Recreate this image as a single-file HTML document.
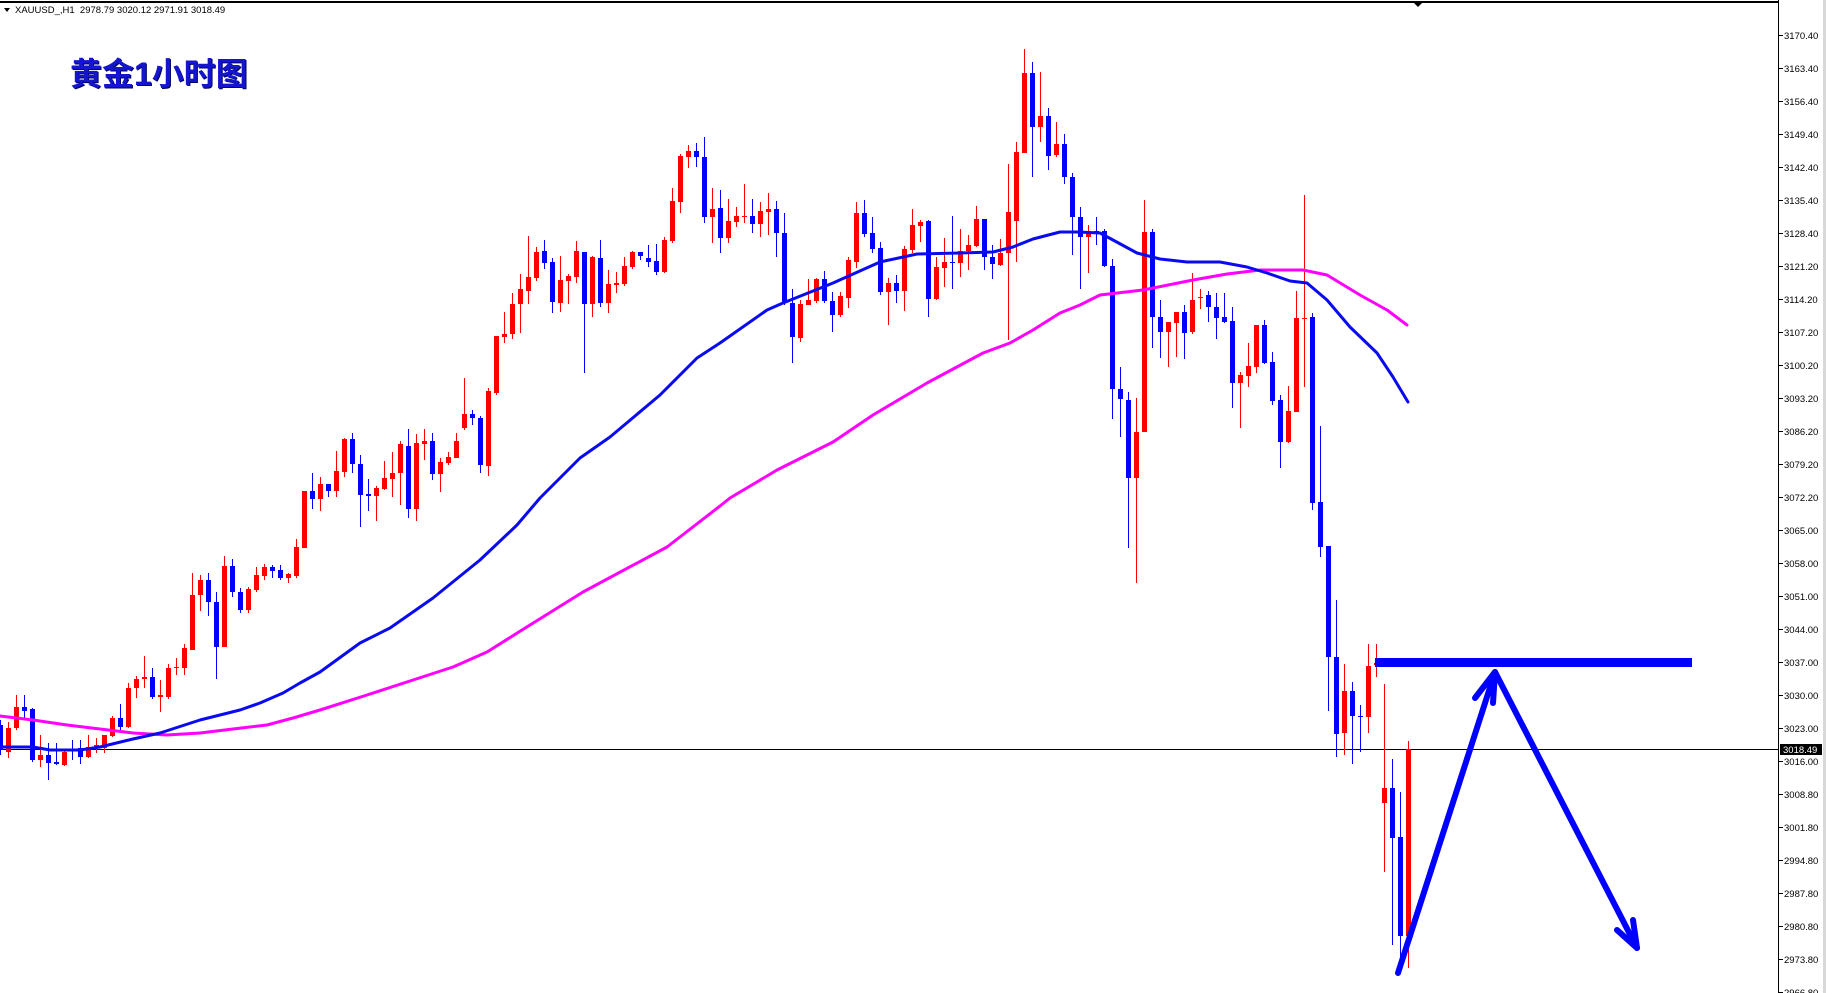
<!DOCTYPE html>
<html><head><meta charset="utf-8"><style>
html,body{margin:0;padding:0;background:#fff;}
svg{display:block;}
</style></head><body>
<svg width="1826" height="993" viewBox="0 0 1826 993" xmlns="http://www.w3.org/2000/svg">
<rect x="0" y="0" width="1826" height="993" fill="#fff"/>
<rect x="1823" y="0" width="3" height="993" fill="#d8d8d8"/>
<!-- top border -->
<rect x="0" y="1" width="1779" height="2" fill="#000"/>
<polygon points="1414,3 1422,3 1418,7" fill="#000"/>
<!-- header -->
<polygon points="4,8 10,8 7,12" fill="#000"/>
<text x="15" y="13" font-family="'Liberation Sans',sans-serif" font-size="9.5" fill="#000" xml:space="preserve">XAUUSD_,H1  2978.79 3020.12 2971.91 3018.49</text>
<!-- title -->
<text x="71" y="86" font-family="'Liberation Sans','Noto Sans CJK SC',sans-serif" font-size="32" font-weight="bold" fill="#000060">黄金1小时图</text>
<text x="70" y="85" font-family="'Liberation Sans','Noto Sans CJK SC',sans-serif" font-size="32" font-weight="bold" fill="#1515d0">黄金1小时图</text>

<!-- price line -->
<rect x="0" y="749" width="1778" height="1" fill="#000"/>

<!-- candles -->
<g shape-rendering="crispEdges">
<path fill="#ff0000" d="M6 728h5v24h-5zM8 722h1v36h-1zM14 707h5v21h-5zM16 695h1v35h-1zM38 755h5v5h-5zM40 735h1v32h-1zM62 752h5v13h-5zM64 750h1v16h-1zM86 747h5v10h-5zM88 735h1v23h-1zM94 745h5v3h-5zM96 738h1v15h-1zM102 735h5v13h-5zM104 735h1v18h-1zM110 718h5v18h-5zM112 716h1v21h-1zM126 688h5v39h-5zM128 683h1v45h-1zM134 679h5v9h-5zM136 676h1v22h-1zM142 677h5v2h-5zM144 656h1v32h-1zM158 695h5v2h-5zM160 680h1v32h-1zM166 668h5v29h-5zM168 664h1v35h-1zM174 667h5v1h-5zM176 658h1v17h-1zM182 648h5v20h-5zM184 644h1v31h-1zM190 595h5v55h-5zM192 573h1v77h-1zM198 580h5v15h-5zM200 575h1v36h-1zM222 566h5v81h-5zM224 556h1v91h-1zM246 589h5v21h-5zM248 587h1v26h-1zM254 575h5v15h-5zM256 567h1v25h-1zM262 567h5v9h-5zM264 564h1v16h-1zM286 574h5v4h-5zM288 573h1v10h-1zM294 547h5v29h-5zM296 539h1v39h-1zM302 491h5v57h-5zM304 491h1v57h-1zM318 484h5v15h-5zM320 477h1v34h-1zM334 471h5v20h-5zM336 451h1v46h-1zM342 439h5v33h-5zM344 438h1v39h-1zM374 488h5v8h-5zM376 486h1v35h-1zM382 478h5v11h-5zM384 461h1v29h-1zM390 473h5v6h-5zM392 452h1v45h-1zM398 444h5v29h-5zM400 441h1v64h-1zM414 443h5v66h-5zM416 434h1v87h-1zM422 441h5v3h-5zM424 429h1v31h-1zM438 462h5v12h-5zM440 458h1v34h-1zM446 457h5v6h-5zM448 452h1v13h-1zM454 441h5v17h-5zM456 433h1v25h-1zM462 414h5v14h-5zM464 378h1v52h-1zM486 391h5v75h-5zM488 388h1v88h-1zM494 336h5v57h-5zM496 336h1v59h-1zM502 334h5v3h-5zM504 312h1v31h-1zM510 304h5v30h-5zM512 293h1v46h-1zM518 289h5v15h-5zM520 274h1v59h-1zM526 277h5v14h-5zM528 236h1v68h-1zM534 252h5v26h-5zM536 247h1v34h-1zM558 280h5v23h-5zM560 256h1v56h-1zM566 276h5v5h-5zM568 274h1v30h-1zM574 251h5v26h-5zM576 241h1v42h-1zM590 257h5v47h-5zM592 256h1v61h-1zM606 284h5v19h-5zM608 270h1v43h-1zM614 283h5v2h-5zM616 272h1v21h-1zM622 266h5v18h-5zM624 257h1v29h-1zM630 252h5v15h-5zM632 251h1v18h-1zM662 240h5v32h-5zM664 237h1v36h-1zM670 201h5v40h-5zM672 188h1v55h-1zM678 156h5v46h-5zM680 154h1v59h-1zM686 151h5v6h-5zM688 145h1v23h-1zM710 209h5v8h-5zM712 188h1v55h-1zM726 221h5v17h-5zM728 199h1v44h-1zM734 216h5v6h-5zM736 207h1v20h-1zM742 216h5v1h-5zM744 184h1v39h-1zM758 211h5v13h-5zM760 202h1v35h-1zM766 209h5v3h-5zM768 193h1v42h-1zM798 304h5v34h-5zM800 300h1v42h-1zM806 300h5v5h-5zM808 279h1v26h-1zM814 279h5v22h-5zM816 278h1v25h-1zM838 296h5v19h-5zM840 292h1v25h-1zM846 260h5v38h-5zM848 257h1v51h-1zM854 213h5v49h-5zM856 202h1v66h-1zM886 283h5v9h-5zM888 278h1v47h-1zM902 249h5v42h-5zM904 246h1v65h-1zM910 225h5v25h-5zM912 209h1v44h-1zM918 222h5v4h-5zM920 220h1v22h-1zM934 267h5v32h-5zM936 257h1v43h-1zM942 262h5v6h-5zM944 238h1v49h-1zM958 251h5v12h-5zM960 229h1v48h-1zM966 245h5v6h-5zM968 235h1v35h-1zM974 219h5v27h-5zM976 206h1v41h-1zM998 253h5v12h-5zM1000 239h1v27h-1zM1006 212h5v41h-5zM1008 164h1v176h-1zM1014 152h5v69h-5zM1016 142h1v120h-1zM1022 73h5v80h-5zM1024 49h1v104h-1zM1038 116h5v11h-5zM1040 72h1v70h-1zM1054 144h5v11h-5zM1056 122h1v35h-1zM1086 231h5v6h-5zM1088 225h1v48h-1zM1134 432h5v46h-5zM1136 398h1v185h-1zM1142 232h5v200h-5zM1144 200h1v232h-1zM1166 322h5v10h-5zM1168 322h1v45h-1zM1174 312h5v11h-5zM1176 312h1v45h-1zM1190 300h5v32h-5zM1192 273h1v61h-1zM1198 297h5v1h-5zM1200 289h1v20h-1zM1238 375h5v8h-5zM1240 372h1v56h-1zM1246 366h5v10h-5zM1248 343h1v44h-1zM1254 325h5v42h-5zM1256 325h1v48h-1zM1286 411h5v31h-5zM1288 386h1v57h-1zM1294 318h5v94h-5zM1296 291h1v121h-1zM1302 318h5v1h-5zM1304 195h1v192h-1zM1342 691h5v42h-5zM1344 664h1v91h-1zM1366 666h5v51h-5zM1368 644h1v89h-1zM1374 663h5v2h-5zM1376 644h1v33h-1zM1382 788h5v15h-5zM1384 684h1v188h-1zM1406 749h5v187h-5zM1408 741h1v227h-1z"/>
<path fill="#0000ff" d="M-2 725h5v25h-5zM0 720h1v35h-1zM22 707h5v4h-5zM24 695h1v25h-1zM30 709h5v51h-5zM32 708h1v54h-1zM46 755h5v8h-5zM48 743h1v37h-1zM54 762h5v2h-5zM56 743h1v22h-1zM70 749h5v2h-5zM72 740h1v20h-1zM78 748h5v9h-5zM80 740h1v24h-1zM118 718h5v9h-5zM120 704h1v26h-1zM150 677h5v20h-5zM152 668h1v31h-1zM206 580h5v22h-5zM208 573h1v43h-1zM214 602h5v45h-5zM216 592h1v87h-1zM230 566h5v26h-5zM232 559h1v38h-1zM238 592h5v18h-5zM240 588h1v25h-1zM270 567h5v4h-5zM272 565h1v13h-1zM278 570h5v8h-5zM280 565h1v15h-1zM310 491h5v8h-5zM312 473h1v36h-1zM326 484h5v7h-5zM328 484h1v13h-1zM350 439h5v25h-5zM352 433h1v40h-1zM358 464h5v31h-5zM360 455h1v72h-1zM366 494h5v2h-5zM368 479h1v32h-1zM406 446h5v63h-5zM408 429h1v89h-1zM430 441h5v33h-5zM432 433h1v47h-1zM470 414h5v4h-5zM472 410h1v15h-1zM478 418h5v47h-5zM480 416h1v57h-1zM542 251h5v12h-5zM544 240h1v29h-1zM550 262h5v40h-5zM552 258h1v55h-1zM582 252h5v52h-5zM584 252h1v121h-1zM598 258h5v45h-5zM600 240h1v67h-1zM638 252h5v4h-5zM640 252h1v8h-1zM646 258h5v4h-5zM648 245h1v22h-1zM654 261h5v11h-5zM656 244h1v31h-1zM694 151h5v6h-5zM696 143h1v24h-1zM702 157h5v60h-5zM704 137h1v86h-1zM718 208h5v30h-5zM720 190h1v63h-1zM750 216h5v8h-5zM752 199h1v34h-1zM774 209h5v24h-5zM776 201h1v56h-1zM782 233h5v70h-5zM784 213h1v92h-1zM790 303h5v34h-5zM792 289h1v74h-1zM822 279h5v22h-5zM824 271h1v32h-1zM830 301h5v14h-5zM832 292h1v40h-1zM862 213h5v21h-5zM864 200h1v37h-1zM870 233h5v16h-5zM872 217h1v36h-1zM878 248h5v44h-5zM880 242h1v53h-1zM894 283h5v8h-5zM896 275h1v28h-1zM926 221h5v78h-5zM928 220h1v97h-1zM950 262h5v1h-5zM952 216h1v73h-1zM982 219h5v38h-5zM984 219h1v51h-1zM990 257h5v7h-5zM992 245h1v34h-1zM1030 73h5v54h-5zM1032 62h1v115h-1zM1046 116h5v40h-5zM1048 108h1v62h-1zM1062 144h5v33h-5zM1064 134h1v50h-1zM1070 177h5v40h-5zM1072 173h1v82h-1zM1078 217h5v20h-5zM1080 207h1v82h-1zM1094 231h5v1h-5zM1096 217h1v28h-1zM1102 231h5v35h-5zM1104 229h1v38h-1zM1110 266h5v123h-5zM1112 259h1v160h-1zM1118 389h5v10h-5zM1120 367h1v70h-1zM1126 400h5v78h-5zM1128 392h1v156h-1zM1150 232h5v85h-5zM1152 229h1v119h-1zM1158 317h5v15h-5zM1160 300h1v58h-1zM1182 312h5v21h-5zM1184 305h1v54h-1zM1206 295h5v12h-5zM1208 291h1v31h-1zM1214 307h5v11h-5zM1216 293h1v46h-1zM1222 317h5v5h-5zM1224 293h1v30h-1zM1230 321h5v62h-5zM1232 307h1v101h-1zM1262 325h5v38h-5zM1264 320h1v44h-1zM1270 362h5v39h-5zM1272 352h1v53h-1zM1278 400h5v42h-5zM1280 395h1v73h-1zM1310 317h5v186h-5zM1312 313h1v197h-1zM1318 502h5v45h-5zM1320 426h1v131h-1zM1326 546h5v111h-5zM1328 546h1v165h-1zM1334 657h5v77h-5zM1336 600h1v157h-1zM1350 691h5v25h-5zM1352 682h1v82h-1zM1358 716h5v1h-5zM1360 705h1v47h-1zM1390 788h5v50h-5zM1392 759h1v186h-1zM1398 837h5v99h-5zM1400 792h1v175h-1z"/>
</g>

<!-- moving averages -->
<polyline fill="none" stroke="#ff00ff" stroke-width="3" stroke-linejoin="round" stroke-linecap="round" points="0,716 33,720 67,725 100,729 133,733 167,735 200,733 233,729 267,725 293,718 320,710 367,695 453,667 487,652 530,625 583,592 667,547 720,506 730,498 777,470 833,442 873,415 927,383 983,353 1010,343 1033,330 1060,313 1080,305 1100,295 1143,290 1193,280 1227,274 1260,270 1303,270 1327,275 1360,295 1387,310 1407,325"/>
<polyline fill="none" stroke="#0a0af0" stroke-width="3" stroke-linejoin="round" stroke-linecap="round" points="0,747 33,747 50,750 80,750 100,747 133,739 160,733 200,720 240,710 260,703 283,693 300,683 320,672 360,643 390,628 433,598 480,560 517,525 540,498 580,458 610,437 660,395 697,358 720,343 767,310 783,303 833,283 880,262 917,254 960,253 993,252 1013,247 1033,239 1060,232 1077,232 1100,233 1113,240 1137,253 1160,259 1187,262 1220,262 1247,267 1267,273 1290,281 1307,283 1327,300 1350,327 1377,353 1393,377 1408,402"/>

<!-- drawings -->
<rect x="1375" y="658" width="317" height="9" fill="#0000ff"/>
<g fill="none" stroke="#0000ff" stroke-width="6" stroke-linecap="round" stroke-linejoin="round">
<polyline points="1398,973 1495,672 1637,948"/>
<polyline points="1475,698 1495,672 1493,703"/>
<polyline points="1617,930 1637,948 1633,920"/>
</g>

<!-- right axis -->
<rect x="1778" y="0" width="1" height="993" fill="#000"/>
<g fill="#000" shape-rendering="crispEdges">
<rect x="1779" y="35" width="4" height="1"/><rect x="1779" y="68" width="4" height="1"/><rect x="1779" y="101" width="4" height="1"/><rect x="1779" y="134" width="4" height="1"/><rect x="1779" y="167" width="4" height="1"/><rect x="1779" y="200" width="4" height="1"/><rect x="1779" y="233" width="4" height="1"/><rect x="1779" y="266" width="4" height="1"/><rect x="1779" y="299" width="4" height="1"/><rect x="1779" y="332" width="4" height="1"/><rect x="1779" y="365" width="4" height="1"/><rect x="1779" y="398" width="4" height="1"/><rect x="1779" y="431" width="4" height="1"/><rect x="1779" y="464" width="4" height="1"/><rect x="1779" y="497" width="4" height="1"/><rect x="1779" y="530" width="4" height="1"/><rect x="1779" y="563" width="4" height="1"/><rect x="1779" y="596" width="4" height="1"/><rect x="1779" y="629" width="4" height="1"/><rect x="1779" y="662" width="4" height="1"/><rect x="1779" y="695" width="4" height="1"/><rect x="1779" y="728" width="4" height="1"/><rect x="1779" y="761" width="4" height="1"/><rect x="1779" y="794" width="4" height="1"/><rect x="1779" y="827" width="4" height="1"/><rect x="1779" y="860" width="4" height="1"/><rect x="1779" y="893" width="4" height="1"/><rect x="1779" y="926" width="4" height="1"/><rect x="1779" y="959" width="4" height="1"/><rect x="1779" y="992" width="4" height="1"/>
</g>
<g font-family="'Liberation Sans',sans-serif" font-size="9.5" fill="#000">
<text x="1784" y="39">3170.40</text>
<text x="1784" y="72">3163.40</text>
<text x="1784" y="105">3156.40</text>
<text x="1784" y="138">3149.40</text>
<text x="1784" y="171">3142.40</text>
<text x="1784" y="204">3135.40</text>
<text x="1784" y="237">3128.40</text>
<text x="1784" y="270">3121.20</text>
<text x="1784" y="303">3114.20</text>
<text x="1784" y="336">3107.20</text>
<text x="1784" y="369">3100.20</text>
<text x="1784" y="402">3093.20</text>
<text x="1784" y="435">3086.20</text>
<text x="1784" y="468">3079.20</text>
<text x="1784" y="501">3072.20</text>
<text x="1784" y="534">3065.00</text>
<text x="1784" y="567">3058.00</text>
<text x="1784" y="600">3051.00</text>
<text x="1784" y="633">3044.00</text>
<text x="1784" y="666">3037.00</text>
<text x="1784" y="699">3030.00</text>
<text x="1784" y="732">3023.00</text>
<text x="1784" y="765">3016.00</text>
<text x="1784" y="798">3008.80</text>
<text x="1784" y="831">3001.80</text>
<text x="1784" y="864">2994.80</text>
<text x="1784" y="897">2987.80</text>
<text x="1784" y="930">2980.80</text>
<text x="1784" y="963">2973.80</text>
<text x="1784" y="996">2966.80</text>
</g>
<rect x="1780" y="744" width="42" height="11" fill="#000"/>
<text x="1783" y="753" font-family="'Liberation Sans',sans-serif" font-size="9.5" fill="#fff">3018.49</text>
</svg>
</body></html>
